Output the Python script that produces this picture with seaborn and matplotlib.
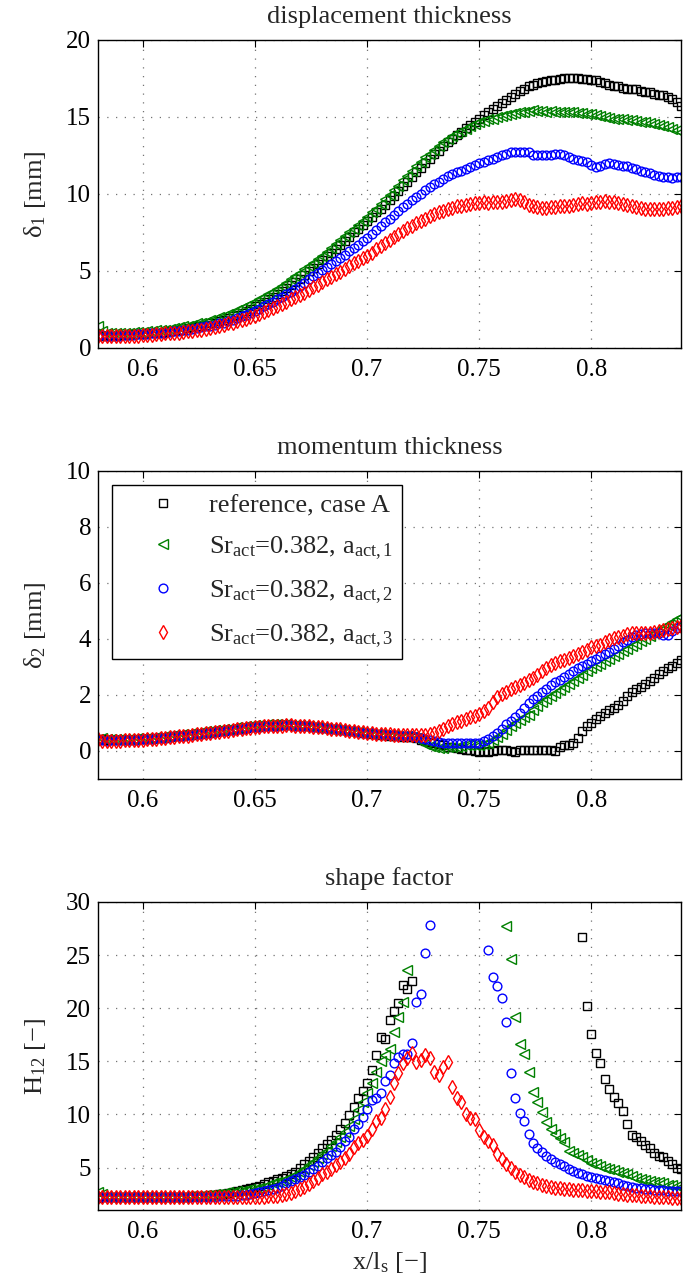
import numpy as np
import pandas as pd
import matplotlib
matplotlib.use("Agg")
import matplotlib.pyplot as plt
import seaborn as sns

N = np.nan

# streamwise position x/l_s
x = [0.580, 0.582, 0.584, 0.586, 0.588, 0.590, 0.592, 0.594, 0.596, 0.598,
     0.600, 0.602, 0.604, 0.606, 0.608, 0.610, 0.612, 0.614, 0.616, 0.618,
     0.620, 0.622, 0.624, 0.626, 0.628, 0.630, 0.632, 0.634, 0.636, 0.638,
     0.640, 0.642, 0.644, 0.646, 0.648, 0.650, 0.652, 0.654, 0.656, 0.658,
     0.660, 0.662, 0.664, 0.666, 0.668, 0.670, 0.672, 0.674, 0.676, 0.678,
     0.680, 0.682, 0.684, 0.686, 0.688, 0.690, 0.692, 0.694, 0.696, 0.698,
     0.700, 0.702, 0.704, 0.706, 0.708, 0.710, 0.712, 0.714, 0.716, 0.718,
     0.720, 0.722, 0.724, 0.726, 0.728, 0.730, 0.732, 0.734, 0.736, 0.738,
     0.740, 0.742, 0.744, 0.746, 0.748, 0.750, 0.752, 0.754, 0.756, 0.758,
     0.760, 0.762, 0.764, 0.766, 0.768, 0.770, 0.772, 0.774, 0.776, 0.778,
     0.780, 0.782, 0.784, 0.786, 0.788, 0.790, 0.792, 0.794, 0.796, 0.798,
     0.800, 0.802, 0.804, 0.806, 0.808, 0.810, 0.812, 0.814, 0.816, 0.818,
     0.820, 0.822, 0.824, 0.826, 0.828, 0.830, 0.832, 0.834, 0.836, 0.838,
     0.840]

# displacement thickness delta_1 [mm]
d1_ref = [0.8, 0.8, 0.8, 0.8, 0.8, 0.85, 0.85, 0.85, 0.9, 0.9,
          0.9, 0.95, 0.95, 1.0, 1.0, 1.05, 1.1, 1.1, 1.15, 1.2,
          1.3, 1.35, 1.4, 1.45, 1.5, 1.6, 1.65, 1.75, 1.85, 1.95,
          2.05, 2.15, 2.3, 2.4, 2.55, 2.7, 2.85, 3.0, 3.15, 3.3,
          3.5, 3.7, 3.9, 4.1, 4.3, 4.5, 4.75, 5.0, 5.2, 5.45,
          5.7, 5.95, 6.2, 6.45, 6.7, 6.95, 7.2, 7.5, 7.75, 8.0,
          8.25, 8.5, 8.8, 9.05, 9.3, 9.6, 9.9, 10.2, 10.5, 10.8,
          11.1, 11.4, 11.7, 12.0, 12.3, 12.6, 12.8, 13.1, 13.4, 13.6,
          13.85, 14.05, 14.3, 14.5, 14.7, 14.9, 15.1, 15.3, 15.5, 15.7,
          15.9, 16.1, 16.3, 16.5, 16.7, 16.85, 17.0, 17.1, 17.2, 17.3,
          17.35, 17.4, 17.4, 17.45, 17.5, 17.5, 17.5, 17.5, 17.45, 17.45,
          17.4, 17.4, 17.3, 17.2, 17.1, 17.0, 17.0, 16.9, 16.85, 16.8,
          16.8, 16.7, 16.6, 16.6, 16.5, 16.45, 16.4, 16.3, 16.2, 16.0,
          15.7]
d1_a1 = [1.4, 1.1, 1.0, 1.0, 1.0, 1.0, 1.0, 1.0, 1.05, 1.05,
         1.05, 1.1, 1.1, 1.15, 1.15, 1.2, 1.25, 1.3, 1.35, 1.4,
         1.45, 1.5, 1.6, 1.65, 1.7, 1.8, 1.9, 2.0, 2.1, 2.2,
         2.3, 2.45, 2.6, 2.7, 2.85, 3.0, 3.15, 3.3, 3.5, 3.65,
         3.85, 4.05, 4.25, 4.45, 4.65, 4.85, 5.1, 5.3, 5.55, 5.8,
         6.0, 6.25, 6.5, 6.75, 7.0, 7.25, 7.5, 7.75, 8.0, 8.25,
         8.5, 8.8, 9.05, 9.35, 9.65, 9.95, 10.25, 10.55, 10.9, 11.2,
         11.5, 11.8, 12.1, 12.4, 12.6, 12.85, 13.1, 13.35, 13.55, 13.75,
         13.95, 14.1, 14.25, 14.4, 14.55, 14.65, 14.75, 14.85, 14.9, 15.0,
         15.05, 15.1, 15.2, 15.25, 15.3, 15.35, 15.4, 15.45, 15.4, 15.4,
         15.35, 15.4, 15.35, 15.3, 15.3, 15.35, 15.3, 15.25, 15.25, 15.2,
         15.2, 15.1, 15.05, 15.0, 14.95, 14.9, 14.9, 14.85, 14.8, 14.8,
         14.75, 14.7, 14.65, 14.6, 14.55, 14.5, 14.4, 14.35, 14.25, 14.15,
         14.0]
d1_a2 = [0.8, 0.85, 0.8, 0.8, 0.8, 0.8, 0.85, 0.85, 0.85, 0.9,
         0.9, 0.9, 0.95, 0.95, 1.0, 1.0, 1.05, 1.1, 1.1, 1.15,
         1.2, 1.25, 1.3, 1.35, 1.4, 1.45, 1.5, 1.6, 1.65, 1.75,
         1.85, 1.95, 2.05, 2.15, 2.25, 2.4, 2.55, 2.7, 2.85, 3.0,
         3.15, 3.3, 3.5, 3.65, 3.85, 4.05, 4.25, 4.45, 4.65, 4.85,
         5.05, 5.25, 5.45, 5.65, 5.85, 6.05, 6.3, 6.5, 6.7, 6.95,
         7.15, 7.4, 7.65, 7.9, 8.15, 8.4, 8.65, 8.9, 9.15, 9.35,
         9.6, 9.8, 10.0, 10.25, 10.45, 10.65, 10.8, 11.0, 11.15, 11.3,
         11.4, 11.5, 11.6, 11.75, 11.9, 12.0, 12.1, 12.2, 12.3, 12.4,
         12.5, 12.6, 12.7, 12.75, 12.75, 12.75, 12.7, 12.55, 12.5, 12.5,
         12.5, 12.55, 12.6, 12.6, 12.5, 12.4, 12.3, 12.2, 12.15, 12.1,
         11.9, 11.75, 11.8, 11.95, 12.0, 11.95, 11.9, 11.85, 11.8, 11.7,
         11.6, 11.5, 11.45, 11.35, 11.25, 11.2, 11.1, 11.1, 11.05, 11.1,
         11.1]
d1_a3 = [0.75, 0.8, 0.75, 0.75, 0.75, 0.75, 0.75, 0.8, 0.8, 0.8,
         0.85, 0.85, 0.85, 0.9, 0.9, 0.95, 0.95, 1.0, 1.0, 1.05,
         1.1, 1.1, 1.15, 1.2, 1.25, 1.3, 1.35, 1.45, 1.5, 1.6,
         1.65, 1.75, 1.85, 1.9, 2.0, 2.1, 2.2, 2.35, 2.45, 2.6,
         2.7, 2.85, 3.0, 3.15, 3.3, 3.45, 3.6, 3.75, 3.95, 4.1,
         4.3, 4.45, 4.6, 4.8, 4.95, 5.15, 5.3, 5.5, 5.65, 5.85,
         6.0, 6.2, 6.4, 6.6, 6.8, 7.0, 7.2, 7.4, 7.6, 7.8,
         7.95, 8.1, 8.25, 8.4, 8.55, 8.7, 8.8, 8.9, 9.0, 9.1,
         9.2, 9.25, 9.3, 9.35, 9.4, 9.4, 9.45, 9.4, 9.45, 9.5,
         9.5, 9.55, 9.6, 9.65, 9.6, 9.45, 9.3, 9.2, 9.15, 9.1,
         9.1, 9.15, 9.15, 9.2, 9.25, 9.25, 9.3, 9.35, 9.4, 9.35,
         9.4, 9.45, 9.5, 9.55, 9.5, 9.45, 9.4, 9.35, 9.3, 9.2,
         9.15, 9.1, 9.05, 9.0, 9.0, 9.05, 9.05, 9.1, 9.1, 9.15,
         9.2]

# momentum thickness delta_2 [mm]
d2_ref = [0.4, 0.42, 0.38, 0.4, 0.38, 0.38, 0.4, 0.4, 0.4, 0.42,
          0.42, 0.43, 0.44, 0.45, 0.46, 0.48, 0.5, 0.52, 0.53, 0.55,
          0.56, 0.58, 0.6, 0.62, 0.64, 0.66, 0.68, 0.7, 0.72, 0.74,
          0.76, 0.78, 0.8, 0.82, 0.84, 0.85, 0.87, 0.88, 0.9, 0.9,
          0.91, 0.92, 0.92, 0.92, 0.91, 0.9, 0.89, 0.88, 0.86, 0.85,
          0.83, 0.82, 0.8, 0.78, 0.76, 0.74, 0.72, 0.7, 0.68, 0.66,
          0.64, 0.62, 0.6, 0.58, 0.57, 0.55, 0.53, 0.52, 0.51, 0.5,
          0.49, 0.45, 0.4, 0.36, 0.32, 0.28, 0.24, 0.2, 0.16, 0.13,
          0.1, 0.07, 0.05, 0.03, 0.0, -0.02, 0.0, -0.03, 0.0, 0.02,
          0.05, 0.03, 0.0, -0.02, 0.02, 0.03, 0.02, 0.05, 0.04, 0.02,
          0.03, 0.04, 0.0, 0.15, 0.2, 0.22, 0.3, 0.45, 0.7, 0.9,
          1.0, 1.15, 1.25, 1.35, 1.45, 1.55, 1.65, 1.8, 1.95, 2.1,
          2.2, 2.3, 2.4, 2.5, 2.6, 2.75, 2.85, 2.95, 3.05, 3.15,
          3.25]
d2_a1 = [0.42, 0.45, 0.42, 0.43, 0.42, 0.42, 0.43, 0.44, 0.44, 0.45,
         0.46, 0.47, 0.48, 0.5, 0.51, 0.53, 0.55, 0.57, 0.58, 0.6,
         0.62, 0.64, 0.66, 0.68, 0.7, 0.72, 0.74, 0.76, 0.78, 0.8,
         0.82, 0.84, 0.86, 0.88, 0.9, 0.92, 0.93, 0.94, 0.95, 0.96,
         0.96, 0.96, 0.95, 0.94, 0.93, 0.92, 0.9, 0.88, 0.87, 0.85,
         0.83, 0.82, 0.8, 0.78, 0.76, 0.74, 0.72, 0.7, 0.68, 0.66,
         0.64, 0.62, 0.61, 0.6, 0.58, 0.57, 0.56, 0.55, 0.53, 0.52,
         0.5, 0.45, 0.35, 0.25, 0.18, 0.14, 0.12, 0.12, 0.13, 0.15,
         0.16, 0.18, 0.2, 0.22, 0.22, 0.22, 0.25, 0.28, 0.38, 0.5,
         0.62, 0.75, 0.9, 1.0, 1.1, 1.2, 1.3, 1.45, 1.6, 1.75,
         1.85, 1.97, 2.08, 2.18, 2.28, 2.4, 2.5, 2.6, 2.7, 2.85,
         2.95, 3.02, 3.1, 3.2, 3.3, 3.4, 3.48, 3.56, 3.65, 3.75,
         3.83, 3.92, 4.0, 4.1, 4.2, 4.3, 4.42, 4.5, 4.6, 4.7,
         4.8]
d2_a2 = [0.4, 0.38, 0.36, 0.38, 0.38, 0.38, 0.4, 0.4, 0.4, 0.41,
         0.42, 0.43, 0.44, 0.45, 0.46, 0.48, 0.5, 0.52, 0.53, 0.55,
         0.56, 0.58, 0.6, 0.62, 0.64, 0.66, 0.68, 0.7, 0.72, 0.74,
         0.76, 0.78, 0.8, 0.82, 0.84, 0.86, 0.87, 0.88, 0.9, 0.9,
         0.91, 0.92, 0.92, 0.92, 0.91, 0.9, 0.89, 0.88, 0.86, 0.85,
         0.83, 0.82, 0.8, 0.78, 0.76, 0.74, 0.72, 0.7, 0.68, 0.66,
         0.64, 0.63, 0.61, 0.6, 0.58, 0.57, 0.56, 0.55, 0.54, 0.53,
         0.52, 0.5, 0.46, 0.42, 0.38, 0.35, 0.32, 0.3, 0.3, 0.28,
         0.3, 0.3, 0.28, 0.28, 0.28, 0.3, 0.35, 0.42, 0.52, 0.65,
         0.8, 0.95, 1.08, 1.2, 1.35, 1.55, 1.7, 1.85, 1.98, 2.1,
         2.22, 2.35, 2.45, 2.55, 2.65, 2.75, 2.85, 2.95, 3.03, 3.1,
         3.2, 3.3, 3.38, 3.45, 3.55, 3.65, 3.75, 3.88, 3.98, 4.08,
         4.15, 4.18, 4.2, 4.2, 4.2, 4.2, 4.15, 4.15, 4.3, 4.38,
         4.45]
d2_a3 = [0.42, 0.36, 0.34, 0.35, 0.36, 0.37, 0.38, 0.38, 0.39, 0.4,
         0.41, 0.42, 0.43, 0.44, 0.45, 0.47, 0.49, 0.51, 0.52, 0.54,
         0.55, 0.57, 0.59, 0.61, 0.63, 0.65, 0.67, 0.69, 0.71, 0.73,
         0.75, 0.77, 0.79, 0.81, 0.83, 0.85, 0.86, 0.88, 0.89, 0.9,
         0.91, 0.91, 0.92, 0.92, 0.91, 0.9, 0.89, 0.88, 0.86, 0.85,
         0.84, 0.82, 0.8, 0.78, 0.77, 0.75, 0.73, 0.71, 0.69, 0.67,
         0.65, 0.64, 0.62, 0.61, 0.6, 0.59, 0.58, 0.58, 0.58, 0.58,
         0.58, 0.57, 0.56, 0.58, 0.6, 0.66, 0.72, 0.8, 0.88, 0.95,
         1.02, 1.08, 1.14, 1.2, 1.26, 1.32, 1.42, 1.55, 1.75, 1.92,
         2.05, 2.12, 2.2, 2.28, 2.36, 2.44, 2.52, 2.62, 2.72, 2.85,
         2.98, 3.06, 3.14, 3.2, 3.26, 3.33, 3.4, 3.48, 3.55, 3.62,
         3.7, 3.75, 3.8, 3.88, 3.95, 4.02, 4.08, 4.12, 4.17, 4.2,
         4.2, 4.2, 4.2, 4.22, 4.25, 4.28, 4.32, 4.36, 4.4, 4.43,
         4.45]

# shape factor H_12 [-]  (N = above the plotted range)
h12_ref = [2.1, 2.2, 2.2, 2.2, 2.2, 2.2, 2.2, 2.2, 2.2, 2.2,
           2.2, 2.2, 2.2, 2.2, 2.2, 2.2, 2.2, 2.2, 2.2, 2.25,
           2.25, 2.3, 2.3, 2.35, 2.35, 2.4, 2.45, 2.5, 2.55, 2.6,
           2.7, 2.75, 2.85, 2.95, 3.05, 3.15, 3.3, 3.45, 3.6, 3.75,
           3.9, 4.05, 4.2, 4.4, 4.6, 5.0, 5.3, 5.6, 6.0, 6.4,
           6.8, 7.2, 7.6, 8.1, 8.6, 9.2, 9.9, 10.7, 11.5, 12.2,
           13.0, 14.2, 15.6, 17.3, 17.1, 18.9, 19.7, 20.5, 22.2, 21.8,
           22.6, N, N, N, N, N, N, N, N, N,
           N, N, N, N, N, N, N, N, N, N,
           N, N, N, N, N, N, N, N, N, N,
           N, N, N, N, N, N, N, N, 26.7, 20.2,
           17.6, 15.8, 14.8, 13.3, 12.4, 11.6, 11.1, 10.3, 9.1, 8.1,
           7.9, 7.5, 7.1, 6.8, 6.4, 6.1, 6.0, 5.6, 5.3, 5.0,
           4.9]
h12_a1 = [2.7, 2.5, 2.2, 2.2, 2.2, 2.2, 2.2, 2.2, 2.2, 2.2,
          2.2, 2.2, 2.2, 2.2, 2.2, 2.2, 2.2, 2.2, 2.25, 2.25,
          2.3, 2.3, 2.35, 2.35, 2.4, 2.45, 2.5, 2.55, 2.6, 2.65,
          2.7, 2.75, 2.8, 2.9, 2.95, 3.0, 3.1, 3.2, 3.35, 3.5,
          3.6, 3.75, 3.9, 4.1, 4.3, 4.6, 4.9, 5.2, 5.55, 5.9,
          6.25, 6.6, 7.0, 7.4, 7.85, 8.3, 8.9, 9.6, 10.4, 11.2,
          12.0, 13.0, 14.0, 15.0, 15.6, 16.2, 17.8, 19.2, 20.6, 23.6,
          N, N, N, N, N, N, N, N, N, N,
          N, N, N, N, N, N, N, N, N, N,
          N, 27.7, 24.6, 19.2, 16.6, 15.7, 14.0, 12.1, 11.2, 10.2,
          9.3, 8.6, 8.2, 7.8, 7.4, 6.6, 6.4, 6.2, 6.0, 5.7,
          5.4, 5.3, 5.15, 5.0, 4.9, 4.75, 4.6, 4.5, 4.35, 4.2,
          4.0, 3.95, 3.85, 3.75, 3.65, 3.6, 3.5, 3.4, 3.35, 3.3,
          3.2]
h12_a2 = [2.2, 2.2, 2.2, 2.2, 2.2, 2.2, 2.2, 2.2, 2.2, 2.2,
          2.2, 2.2, 2.2, 2.2, 2.2, 2.2, 2.2, 2.2, 2.2, 2.2,
          2.2, 2.2, 2.2, 2.2, 2.2, 2.25, 2.25, 2.3, 2.3, 2.3,
          2.35, 2.35, 2.4, 2.45, 2.5, 2.6, 2.7, 2.8, 2.9, 3.0,
          3.1, 3.3, 3.5, 3.7, 3.9, 4.1, 4.3, 4.6, 4.85, 5.15,
          5.5, 5.9, 6.2, 6.5, 6.9, 7.5, 7.9, 8.6, 9.1, 9.8,
          10.5, 11.4, 11.5, 12.0, 13.1, 13.7, 14.8, 15.4, 15.7, 15.7,
          16.7, 20.6, 21.3, 25.2, 27.8, N, N, N, N, N,
          N, N, N, N, N, N, N, 25.5, 22.9, 22.1,
          21.0, 18.7, 13.9, 11.5, 10.1, 9.4, 8.2, 7.3, 6.8, 6.5,
          6.1, 5.8, 5.5, 5.3, 5.1, 4.9, 4.7, 4.5, 4.4, 4.2,
          4.1, 4.0, 3.9, 3.8, 3.7, 3.6, 3.5, 3.4, 3.3, 3.2,
          3.1, 3.05, 3.0, 2.95, 2.9, 2.85, 2.85, 2.8, 2.8, 2.75,
          2.75]
h12_a3 = [2.2, 2.2, 2.2, 2.2, 2.2, 2.2, 2.2, 2.2, 2.2, 2.2,
          2.2, 2.2, 2.2, 2.2, 2.2, 2.2, 2.2, 2.2, 2.2, 2.2,
          2.2, 2.2, 2.2, 2.2, 2.2, 2.2, 2.2, 2.2, 2.2, 2.2,
          2.2, 2.2, 2.2, 2.2, 2.2, 2.2, 2.25, 2.25, 2.3, 2.3,
          2.35, 2.4, 2.5, 2.6, 2.75, 2.95, 3.2, 3.45, 3.75, 4.05,
          4.35, 4.6, 4.85, 5.2, 5.5, 5.9, 6.3, 6.9, 7.3, 7.6,
          8.0, 8.6, 9.4, 9.7, 10.5, 11.6, 13.0, 13.9, 14.8, 15.3,
          15.8, 14.9, 15.1, 15.6, 15.3, 14.0, 13.7, 14.5, 14.9, 12.6,
          11.5, 11.2, 10.0, 9.7, 9.6, 8.5, 7.9, 7.5, 7.1, 6.3,
          5.8, 5.3, 5.0, 4.6, 4.3, 4.1, 3.8, 3.6, 3.5, 3.4,
          3.3, 3.2, 3.1, 3.05, 3.0, 2.95, 2.9, 2.9, 2.85, 2.8,
          2.8, 2.75, 2.7, 2.7, 2.65, 2.6, 2.55, 2.5, 2.45, 2.4,
          2.4, 2.35, 2.3, 2.3, 2.25, 2.25, 2.2, 2.2, 2.15, 2.1,
          2.1]

case_labels = ["reference, case A",
               r"Sr$_{\mathrm{act}}$=0.382, a$_{\mathrm{act,1}}$",
               r"Sr$_{\mathrm{act}}$=0.382, a$_{\mathrm{act,2}}$",
               r"Sr$_{\mathrm{act}}$=0.382, a$_{\mathrm{act,3}}$"]
panel_titles = ["displacement thickness", "momentum thickness", "shape factor"]
panel_ylabels = [r"δ$_{\mathrm{1}}$ [mm]", r"δ$_{\mathrm{2}}$ [mm]", r"H$_{\mathrm{12}}$ [−]"]
x_label = r"x/l$_{\mathrm{s}}$ [−]"
xticks = [0.6, 0.65, 0.7, 0.75, 0.8]
xtick_labels = ["0.6", "0.65", "0.7", "0.75", "0.8"]
yticks = [[0, 5, 10, 15, 20], [0, 2, 4, 6, 8, 10], [5, 10, 15, 20, 25, 30]]
ylims = [(0, 20), (-1, 10), (1, 30)]
xlim = (0.58, 0.84)

panels = [[d1_ref, d1_a1, d1_a2, d1_a3],
          [d2_ref, d2_a1, d2_a2, d2_a3],
          [h12_ref, h12_a1, h12_a2, h12_a3]]

colors = ["#000000", "#008000", "#0000ff", "#ff0000"]
markers = ["s", "<", "o", "d"]
msizes = [5.4, 6.6, 6.3, 7.2]

sns.set_style("white")
plt.rcParams.update({
    "font.family": ["Liberation Serif", "DejaVu Serif"],
    "mathtext.fontset": "custom",
    "mathtext.rm": "Liberation Serif",
    "mathtext.it": "Liberation Serif:italic",
    "mathtext.bf": "Liberation Serif:bold",
    "mathtext.default": "rm",
    "xtick.direction": "in",
    "ytick.direction": "in",
    "xtick.top": True,
    "ytick.right": True,
    "axes.edgecolor": "black",
    "axes.linewidth": 1.0,
    "xtick.color": "black",
    "ytick.color": "black",
})

fig = plt.figure(figsize=(6.98, 12.87), dpi=100)
W, H = 698.0, 1287.0
left_px, right_px = 98, 681
tops = [40, 471, 902]
height_px = 308

axes = []
for k in range(3):
    ax = fig.add_axes([left_px / W, 1 - (tops[k] + height_px) / H,
                       (right_px - left_px) / W, height_px / H])
    axes.append(ax)

for k, ax in enumerate(axes):
    df = pd.DataFrame({"x": x})
    for j in range(4):
        df["y"] = panels[k][j]
        sns.lineplot(data=df, x="x", y="y", ax=ax, estimator=None, sort=False,
                     color=colors[j], marker=markers[j], linestyle="",
                     markersize=msizes[j], markerfacecolor="none",
                     markeredgecolor=colors[j], markeredgewidth=1.0,
                     label=case_labels[j], legend=False)
    ax.set_xlim(*xlim)
    ax.set_ylim(*ylims[k])
    ax.set_xticks(xticks)
    ax.set_xticklabels(xtick_labels)
    ax.set_yticks(yticks[k])
    ax.set_yticklabels([str(v) for v in yticks[k]])
    ax.tick_params(axis="both", which="both", length=5, width=0.8,
                   labelsize=18)
    ax.tick_params(axis="x", pad=8)
    ax.tick_params(axis="y", pad=5)
    ax.grid(True, color="0.45", linestyle=(0, (1, 6)), linewidth=0.9)
    for s in ax.spines.values():
        s.set_visible(True)
        s.set_linewidth(1.0)
        s.set_color("black")
    ax.set_title(panel_titles[k], fontsize=19, pad=12)
    ax.set_ylabel(panel_ylabels[k], fontsize=19)
    ax.yaxis.set_label_coords(-0.085, 0.5)
    ax.set_xlabel("")
    if ax.get_legend() is not None:
        ax.get_legend().remove()

axes[2].set_xlabel(x_label, fontsize=19, labelpad=5)

handles = axes[1].get_lines()[:4]
leg = axes[1].legend(handles, case_labels, loc="upper left",
                     bbox_to_anchor=(14 / 583, 1 - 14 / 308), borderaxespad=0,
                     fontsize=19, frameon=True, fancybox=False, shadow=False,
                     framealpha=1, edgecolor="black", handlelength=3.2,
                     handletextpad=0.12, borderpad=0.35, labelspacing=0.62)
leg.get_frame().set_linewidth(1.0)

fig.savefig("out.png", dpi=100)
